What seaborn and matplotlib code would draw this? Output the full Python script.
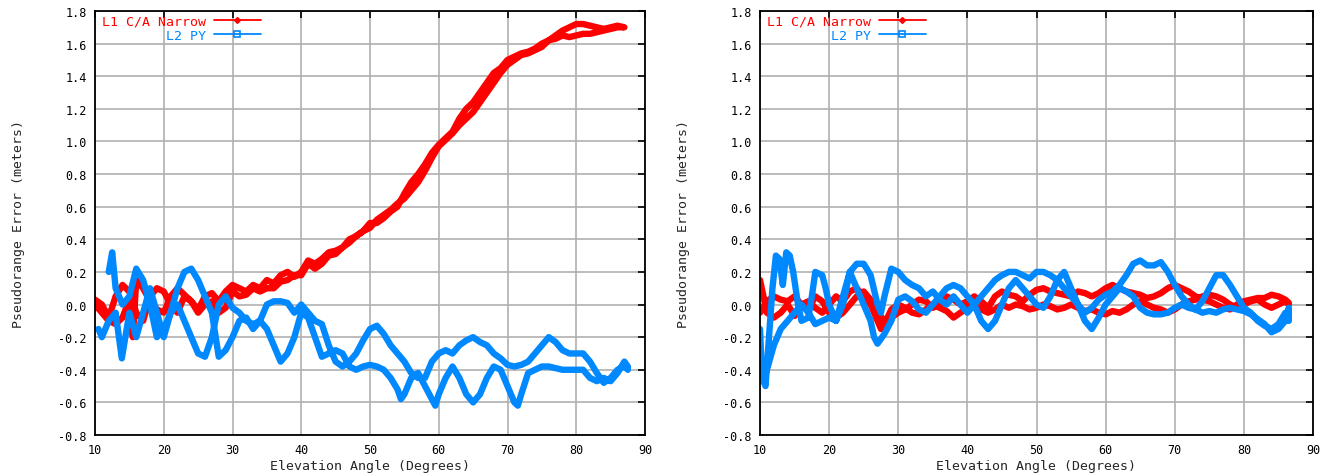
import matplotlib
matplotlib.use("Agg")
import matplotlib.pyplot as plt
from matplotlib.lines import Line2D
import seaborn as sns
import pandas as pd
import numpy as np

# ---------------- data ----------------
# Left panel, L1 C/A Narrow : rising pass then setting pass
left_l1_up_el = [10, 11, 12, 13, 14, 15, 16, 17, 18, 19, 20, 21, 22, 23, 24, 25, 26, 27, 28, 29,
                 30, 31, 32, 33, 34, 35, 36, 37, 38, 39, 40, 41, 42, 43, 44, 45, 46, 47, 48, 49,
                 50, 51, 52, 53, 54, 55, 56, 57, 58, 59, 60, 61, 62, 63, 64, 65, 66, 67, 68, 69,
                 70, 71, 72, 73, 74, 75, 76, 77, 78, 79, 80, 81, 82, 83, 84, 85, 86, 87]
left_l1_up_err = [0.03, 0.0, -0.08, 0.05, 0.12, 0.08, -0.05, -0.1, 0.05, 0.1, 0.08, 0.0, -0.05, 0.05, 0.02, -0.03, 0.05, 0.07, 0.02, 0.08,
                  0.12, 0.1, 0.08, 0.12, 0.1, 0.15, 0.13, 0.18, 0.2, 0.17, 0.2, 0.27, 0.25, 0.28, 0.32, 0.33, 0.35, 0.4, 0.42, 0.45,
                  0.5, 0.5, 0.53, 0.57, 0.6, 0.68, 0.75, 0.8, 0.86, 0.93, 0.98, 1.02, 1.06, 1.14, 1.2, 1.24, 1.3, 1.36, 1.42, 1.45,
                  1.5, 1.52, 1.54, 1.55, 1.57, 1.6, 1.62, 1.65, 1.68, 1.7, 1.72, 1.72, 1.71, 1.7, 1.69, 1.7, 1.71, 1.7]
left_l1_dn_el = [87, 86, 85, 84, 83, 82, 81, 80, 79, 78, 77, 76, 75, 74, 73, 72, 71, 70, 69, 68,
                 67, 66, 65, 64, 63, 62, 61, 60, 59, 58, 57, 56, 55, 54, 53, 52, 51, 50, 49, 48,
                 47, 46, 45, 44, 43, 42, 41, 40, 39, 38, 37, 36, 35, 34, 33, 32, 31, 30, 29, 28,
                 27, 26, 25, 24, 23, 22, 21, 20, 19, 18, 17, 16, 15.5, 15, 14, 13, 12, 11, 10]
left_l1_dn_err = [1.7, 1.7, 1.69, 1.68, 1.67, 1.66, 1.66, 1.65, 1.64, 1.65, 1.63, 1.62, 1.58, 1.56, 1.54, 1.53, 1.5, 1.47, 1.42, 1.36,
                  1.3, 1.24, 1.18, 1.14, 1.1, 1.05, 1.01, 0.97, 0.9, 0.82, 0.75, 0.7, 0.65, 0.62, 0.58, 0.55, 0.52, 0.47, 0.45, 0.42,
                  0.38, 0.35, 0.31, 0.3, 0.25, 0.22, 0.25, 0.18, 0.18, 0.15, 0.14, 0.1, 0.1, 0.08, 0.1, 0.06, 0.05, 0.08, -0.02, -0.05,
                  0.02, 0.0, -0.05, 0.02, 0.06, 0.1, 0.05, -0.05, -0.03, 0.02, 0.1, 0.15, -0.2, 0.03, -0.08, -0.12, -0.1, -0.05, 0.0]

# Left panel, L2 PY
left_l2_up_el = [10.5, 11, 12, 13, 13.9, 15, 16, 17, 18, 19, 20, 21, 22, 23, 24, 25, 26, 27, 28, 29,
                 30, 31, 32, 33, 34, 35, 36, 37, 38, 39, 40, 41, 42, 43, 44, 45, 46, 47, 48, 49,
                 50, 51, 52, 53, 54, 55, 56, 57, 58, 59, 60, 61, 62, 63, 64, 65, 66, 67, 68, 69,
                 70, 71, 72, 73, 74, 75, 76, 77, 78, 79, 80, 81, 82, 83, 84, 85, 86, 87, 87.5]
left_l2_up_err = [-0.15, -0.2, -0.1, -0.05, -0.33, -0.05, -0.2, -0.05, 0.1, -0.05, -0.2, -0.05, 0.1, 0.2, 0.22, 0.15, 0.05, -0.05, -0.32, -0.28,
                  -0.2, -0.1, -0.08, -0.15, -0.1, 0.0, 0.02, 0.02, 0.01, -0.05, 0.0, -0.05, -0.1, -0.12, -0.25, -0.35, -0.38, -0.35, -0.3, -0.22,
                  -0.15, -0.13, -0.18, -0.25, -0.3, -0.35, -0.42, -0.45, -0.45, -0.35, -0.3, -0.28, -0.3, -0.25, -0.22, -0.2, -0.23, -0.25, -0.3, -0.33,
                  -0.37, -0.38, -0.37, -0.35, -0.3, -0.25, -0.2, -0.23, -0.28, -0.3, -0.3, -0.3, -0.35, -0.42, -0.48, -0.45, -0.4, -0.38, -0.4]
left_l2_dn_el = [87.5, 87, 86, 85, 84, 83, 82, 81, 80, 78, 76, 75, 74, 73, 72, 71.5, 71, 70, 69, 68,
                 67, 66, 65, 64, 63, 62, 61, 60, 59.5, 59, 58, 57, 56, 55, 54.5, 54, 53, 52, 51, 50,
                 49, 48, 47, 46, 45, 44, 43, 42, 41, 40, 39, 38, 37, 36, 35, 34, 33, 32, 31, 30,
                 29, 28, 27, 26, 25, 24, 23, 22, 21, 20, 19, 18, 17, 16, 15, 14, 13, 12.5, 12]
left_l2_dn_err = [-0.38, -0.35, -0.42, -0.47, -0.45, -0.47, -0.45, -0.4, -0.4, -0.4, -0.38, -0.38, -0.4, -0.42, -0.55, -0.62, -0.6, -0.5, -0.4, -0.38,
                  -0.45, -0.55, -0.6, -0.55, -0.45, -0.38, -0.45, -0.55, -0.62, -0.58, -0.5, -0.42, -0.45, -0.55, -0.58, -0.52, -0.45, -0.4, -0.38, -0.37,
                  -0.38, -0.4, -0.38, -0.3, -0.28, -0.3, -0.32, -0.2, -0.08, -0.05, -0.2, -0.3, -0.35, -0.25, -0.15, -0.1, -0.12, -0.1, -0.05, -0.02,
                  0.05, 0.0, -0.2, -0.32, -0.3, -0.2, -0.1, 0.0, -0.05, -0.15, -0.2, 0.0, 0.15, 0.22, 0.05, 0.0, 0.1, 0.32, 0.2]

# Right panel, L1 C/A Narrow
right_l1_up_el = [10, 10.5, 11, 12, 13, 14, 15, 16, 17, 18, 19, 20, 21, 22, 23, 24, 25, 26, 27, 28,
                  29, 30, 31, 32, 33, 34, 35, 36, 37, 38, 39, 40, 41, 42, 43, 44, 45, 46, 47, 48,
                  49, 50, 51, 52, 53, 54, 55, 56, 57, 58, 59, 60, 61, 62, 63, 64, 65, 66, 67, 68,
                  69, 70, 71, 72, 73, 74, 75, 76, 77, 78, 79, 80, 81, 82, 83, 84, 85, 86, 86.5]
right_l1_up_err = [0.15, 0.05, -0.05, -0.08, -0.05, 0.0, -0.07, 0.0, -0.03, 0.05, 0.02, -0.05, -0.08, -0.05, 0.0, 0.05, 0.08, 0.03, -0.05, -0.1,
                   -0.08, -0.05, -0.03, 0.0, 0.03, 0.02, -0.02, 0.0, 0.05, 0.03, 0.0, 0.02, 0.05, 0.02, -0.02, 0.05, 0.08, 0.06, 0.05, 0.02,
                   0.06, 0.09, 0.1, 0.08, 0.07, 0.06, 0.05, 0.08, 0.07, 0.05, 0.07, 0.1, 0.12, 0.1, 0.08, 0.07, 0.06, 0.04, 0.05, 0.07,
                   0.1, 0.12, 0.1, 0.08, 0.05, 0.03, 0.02, 0.0, -0.02, -0.03, 0.0, 0.02, 0.03, 0.04, 0.04, 0.06, 0.05, 0.03, 0.01]
right_l1_dn_el = [86.5, 86, 85, 84, 83, 82, 81, 80, 79, 78, 77, 76, 75, 74, 73, 72, 71, 70, 69, 68,
                  67, 66, 65, 64, 63, 62, 61, 60, 59, 58, 57, 56, 55, 54, 53, 52, 51, 50, 49, 48,
                  47, 46, 45, 44, 43, 42, 41, 40, 39, 38, 37, 36, 35, 34, 33, 32, 31, 30, 29, 28,
                  27.5, 27, 26, 25, 24, 23, 22, 21, 20, 19, 18, 17, 16, 15, 14, 13, 12, 11, 10]
right_l1_dn_err = [0.0, 0.02, 0.0, -0.02, 0.0, 0.03, 0.02, 0.0, -0.02, 0.0, 0.03, 0.05, 0.06, 0.05, 0.03, 0.02, 0.0, -0.03, -0.05, -0.03,
                   -0.02, 0.0, 0.02, 0.0, -0.03, -0.05, -0.04, -0.06, -0.05, -0.03, -0.04, -0.02, 0.0, -0.02, -0.03, -0.01, 0.0, -0.02, -0.03, -0.01,
                   0.0, -0.02, 0.0, -0.03, -0.05, -0.03, 0.0, -0.02, -0.05, -0.08, -0.04, -0.02, 0.0, -0.03, -0.06, -0.05, -0.02, 0.0, -0.03, -0.12,
                   -0.15, -0.1, 0.0, 0.05, 0.1, 0.08, 0.02, 0.05, 0.0, -0.05, -0.02, 0.02, 0.0, 0.05, 0.02, 0.03, 0.05, 0.02, -0.05]

# Right panel, L2 PY
right_l2_up_el = [10, 10.3, 10.8, 11.3, 11.8, 12.3, 12.8, 13.3, 13.8, 14.3, 14.8, 15.5, 16, 17, 17.5, 18, 19, 19.5, 20, 21,
                  22, 23, 24, 25, 26, 27, 27.5, 28, 29, 30, 31, 32, 33, 34, 35, 36, 37, 38, 39, 40,
                  41, 42, 43, 44, 45, 46, 47, 48, 49, 50, 51, 52, 53, 54, 55, 56, 57, 58, 59, 60,
                  61, 62, 63, 64, 65, 66, 67, 68, 69, 70, 71, 72, 73, 74, 75, 76, 77, 78, 79, 80,
                  81, 82, 83, 84, 85, 86, 86.5]
right_l2_up_err = [-0.15, -0.45, -0.5, -0.2, 0.1, 0.3, 0.28, 0.12, 0.32, 0.3, 0.2, 0.0, -0.1, -0.08, 0.05, 0.2, 0.18, 0.1, 0.0, -0.1,
                   0.05, 0.2, 0.25, 0.25, 0.18, 0.0, -0.05, 0.05, 0.22, 0.2, 0.15, 0.12, 0.1, 0.05, 0.08, 0.03, 0.0, 0.05, 0.0, -0.05,
                   0.0, 0.05, 0.1, 0.15, 0.18, 0.2, 0.2, 0.18, 0.16, 0.2, 0.2, 0.18, 0.15, 0.1, 0.05, 0.0, -0.05, -0.02, 0.03, 0.06,
                   0.08, 0.12, 0.18, 0.25, 0.27, 0.24, 0.24, 0.26, 0.2, 0.12, 0.05, 0.0, -0.03, -0.05, -0.04, -0.05, -0.03, -0.02, -0.03, -0.04,
                   -0.06, -0.09, -0.12, -0.17, -0.15, -0.1, -0.02]
right_l2_dn_el = [86.5, 86, 85, 84, 83, 82, 81, 80, 79, 78, 77, 76, 75, 74, 73, 72, 71, 70, 69, 68,
                  67, 66, 65, 64, 63, 62, 61, 60, 59, 58, 57, 56, 55, 54, 53, 52, 51, 50, 49, 48,
                  47, 46, 45, 44, 43, 42, 41, 40, 39, 38, 37, 36, 35, 34, 33, 32, 31, 30, 29, 28,
                  27, 26.5, 26, 25, 24, 23, 22, 21, 20, 19, 18, 17, 16, 15, 14, 13, 12, 11, 10.5, 10]
right_l2_dn_err = [-0.1, -0.05, -0.12, -0.15, -0.13, -0.1, -0.05, -0.02, 0.05, 0.12, 0.18, 0.18, 0.1, 0.02, -0.03, -0.02, 0.0, -0.02, -0.05, -0.06,
                   -0.06, -0.05, -0.02, 0.05, 0.08, 0.1, 0.05, 0.0, -0.08, -0.15, -0.1, 0.0, 0.1, 0.2, 0.15, 0.05, -0.02, 0.0, 0.05, 0.1,
                   0.15, 0.1, 0.0, -0.1, -0.15, -0.1, 0.0, 0.05, 0.1, 0.12, 0.1, 0.05, 0.0, -0.05, -0.03, 0.02, 0.05, 0.03, -0.1, -0.18,
                   -0.24, -0.2, -0.1, 0.0, 0.1, 0.2, 0.0, -0.1, -0.08, -0.1, -0.12, -0.05, 0.0, -0.05, -0.1, -0.15, -0.25, -0.4, -0.45, -0.3]

series_names = ["L1 C/A Narrow", "L2 PY"]
x_ticks = [10, 20, 30, 40, 50, 60, 70, 80, 90]
y_ticks = [-0.8, -0.6, -0.4, -0.2, 0.0, 0.2, 0.4, 0.6, 0.8, 1.0, 1.2, 1.4, 1.6, 1.8]
x_label = "Elevation Angle (Degrees)"
y_label = "Pseudorange Error (meters)"

RED = "#ff0000"
BLUE = "#0088ff"


def build(l1_up_el, l1_up_err, l1_dn_el, l1_dn_err, l2_up_el, l2_up_err, l2_dn_el, l2_dn_err):
    rows = []
    for name, els, errs in [(series_names[0], l1_up_el + l1_dn_el, l1_up_err + l1_dn_err),
                            (series_names[1], l2_up_el + l2_dn_el, l2_up_err + l2_dn_err)]:
        for e, v in zip(els, errs):
            rows.append({"signal": name, "elev": e, "err": v})
    return pd.DataFrame(rows)


df_left = build(left_l1_up_el, left_l1_up_err, left_l1_dn_el, left_l1_dn_err,
                left_l2_up_el, left_l2_up_err, left_l2_dn_el, left_l2_dn_err)
df_right = build(right_l1_up_el, right_l1_up_err, right_l1_dn_el, right_l1_dn_err,
                 right_l2_up_el, right_l2_up_err, right_l2_dn_el, right_l2_dn_err)

sns.set_style("white")
plt.rcParams["font.family"] = ["DejaVu Sans Mono"]

fig = plt.figure(figsize=(13.31, 4.77), dpi=100)
ax_l = fig.add_axes([95 / 1331, 1 - 436 / 477, 550 / 1331, 424 / 477])
ax_r = fig.add_axes([760 / 1331, 1 - 436 / 477, 553 / 1331, 424 / 477])

for ax, df in [(ax_l, df_left), (ax_r, df_right)]:
    sns.lineplot(data=df, x="elev", y="err", hue="signal", units="signal", estimator=None,
                 sort=False, palette={series_names[0]: RED, series_names[1]: BLUE},
                 linewidth=4.6, solid_capstyle="round", solid_joinstyle="round",
                 legend=False, ax=ax)
    ax.set_xlim(10, 90)
    ax.set_ylim(-0.8, 1.8)
    ax.set_xticks(x_ticks)
    ax.set_yticks(y_ticks)
    ax.set_xticklabels([str(t) for t in x_ticks])
    ax.set_yticklabels([f"{t:.1f}" for t in y_ticks])
    ax.grid(True, color="#b0b0b0", linewidth=1.2)
    ax.set_axisbelow(True)
    for s in ax.spines.values():
        s.set_color("black")
        s.set_linewidth(1.3)
    ax.tick_params(direction="in", length=5, width=1.2, top=True, right=True,
                   labelsize=8.5, colors="black", pad=6)
    ax.set_xlabel(x_label, fontsize=9.5, labelpad=2)
    ax.set_ylabel(y_label, fontsize=9.5, labelpad=24)

    handles = [Line2D([0], [0], color=RED, lw=1.3, marker="D", markersize=3),
               Line2D([0], [0], color=BLUE, lw=1.3, marker="s", markersize=4,
                      markerfacecolor="none", markeredgewidth=1.2)]
    ax.legend(handles, series_names, loc="upper left", bbox_to_anchor=(0.006, 1.0),
              frameon=False, markerfirst=False, labelcolor=[RED, BLUE],
              fontsize=9.5, handlelength=3.6, handletextpad=0.6,
              labelspacing=0.1, borderaxespad=0.0, borderpad=0.25, alignment="right")

fig.savefig("out.png", dpi=100, facecolor="white")
